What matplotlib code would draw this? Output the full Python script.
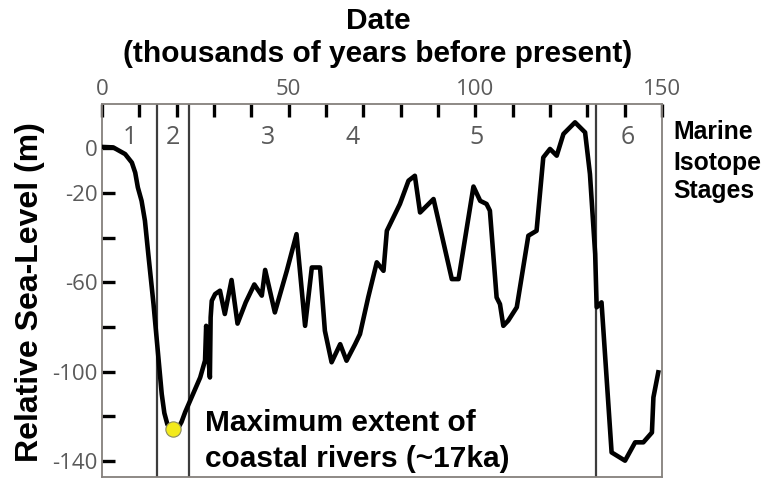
import matplotlib.pyplot as plt

# sea level curve (ka before present, metres)
age_ka = [0, 3.0, 6.2, 8.0, 8.9, 9.6, 10.6, 11.5, 12.4, 13.8, 15.1,
          16.0, 16.7, 17.5, 18.4, 19.3, 20.3, 21.3, 22.3, 23.6, 26.3, 27.6, 27.9, 28.9, 29.1,
          29.4, 30.3, 31.6, 32.9, 34.7, 36.3, 38.5, 40.8, 42.8, 43.7,
          46.3, 49.5, 52.1, 54.4, 56.2, 58.4, 59.7, 61.5, 63.8, 65.5,
          67.8, 69.1, 71.3, 73.6, 75.4, 76.3, 79.8, 82.1, 83.8, 85.2,
          88.8, 93.7, 95.5, 99.5, 101.3, 103.0, 103.9, 105.7, 106.6, 107.5,
          108.8, 111.1, 114.2, 116.4, 118.2, 120.0, 121.8, 123.6, 126.7, 129.4,
          130.7, 132.1, 132.5, 133.8, 136.5, 140.1, 142.8, 145.0, 147.3, 147.7,
          149.0]
sea_level = [0.5, 0.3, -2.7, -6.5, -11, -17.6, -23.6, -32.5, -47.4, -69.8, -93.6,
             -110, -118.5, -123.5, -126, -126.6, -125.5, -122.5, -118, -113, -102.6, -95, -79.5, -102.6, -75.7,
             -68.3, -65.3, -63.8, -74.2, -59, -78.5, -69, -61, -66, -54.5,
             -73.5, -54.9, -38.5, -79.5, -53.4, -53.4, -81.7, -95.8, -87.7, -95.1,
             -87.7, -83.2, -66.8, -51.1, -54.9, -37, -25, -14.6, -12.4, -28.8,
             -22.8, -58.6, -58.6, -17.2, -23.6, -25, -28, -66.8, -69.8, -79.5,
             -77.2, -71.2, -39.2, -37, -4.2, -0.4, -3.4, 6.3, 11.5, 7,
             -11.6, -47.4, -71.2, -69, -136.1, -139.8, -131.6, -131.6, -127.2, -111.5,
             -100.3]

# marine isotope stages
stage_bounds = [14.7, 23.4, 132.3]
stage_names = ['1', '2', '3', '4', '5', '6']
stage_label_x = [7.5, 19.0, 44.5, 67.2, 100.4, 140.9]

# last glacial maximum marker
lgm_age = 19.1
lgm_level = -125.7

x_ticks = list(range(0, 151, 10))
x_labels = ['0', '', '', '', '', '50', '', '', '', '', '100', '', '', '', '', '150']
y_ticks = [0, -20, -40, -60, -80, -100, -120, -140]
y_labels = ['0', '-20', '', '-60', '', '-100', '', '-140']

bold = dict(family='Liberation Sans', weight='bold', color='black')
gray = dict(family='Open Sans', color='#5a5a5a')

fig = plt.figure(figsize=(7.64, 4.79), dpi=100)
ax = fig.add_axes([102 / 764, 2 / 479, 560 / 764, 373 / 479])

ax.plot(age_ka, sea_level, color='black', lw=3.3, solid_joinstyle='round', zorder=3)
for b in stage_bounds:
    ax.axvline(b, color='#3c3c3c', lw=1.6, zorder=2)
ax.plot([lgm_age], [lgm_level], 'o', ms=11, mfc='#f3ea1c', mec='#8a8a60', mew=0.8, zorder=4)

for name, sx in zip(stage_names, stage_label_x):
    ax.text(sx, 4.5, name, ha='center', va='center', fontsize=18, **gray)

ax.set_xlim(0, 150)
ax.set_ylim(-147.1, 19.7)

ax.xaxis.set_ticks_position('top')
ax.set_xticks(x_ticks)
ax.set_xticklabels(x_labels)
ax.set_yticks(y_ticks)
ax.set_yticklabels(y_labels)
ax.tick_params(axis='both', direction='in', length=9, width=2.4, color='black',
               labelsize=16, labelcolor='#5a5a5a', pad=3)
for lab in ax.get_xticklabels() + ax.get_yticklabels():
    lab.set_family('Open Sans')

for sp in ax.spines.values():
    sp.set_color('#85807c')
    sp.set_linewidth(1.3)

# titles and labels
fig.text(378 / 764, 1 - 29 / 479, 'Date', ha='center', va='baseline', fontsize=21.5, **bold)
fig.text(378 / 764, 1 - 62 / 479, '(thousands of years before present)', ha='center',
         va='baseline', fontsize=21.5, **bold)
fig.text(30 / 764, 1 - 292 / 479, 'Relative Sea-Level (m)', ha='center', va='center',
         rotation=90, fontsize=23, **bold)
for word, base in zip(['Marine', 'Isotope', 'Stages'], [139, 170, 198]):
    fig.text(673 / 764, 1 - base / 479, word, ha='left', va='baseline', fontsize=17.8, **bold)
fig.text(205 / 764, 1 - 431 / 479, 'Maximum extent of', ha='left', va='baseline',
         fontsize=21.5, **bold)
fig.text(205 / 764, 1 - 467 / 479, 'coastal rivers (~17ka)', ha='left', va='baseline',
         fontsize=21.5, **bold)

fig.savefig('out.png', dpi=100)
